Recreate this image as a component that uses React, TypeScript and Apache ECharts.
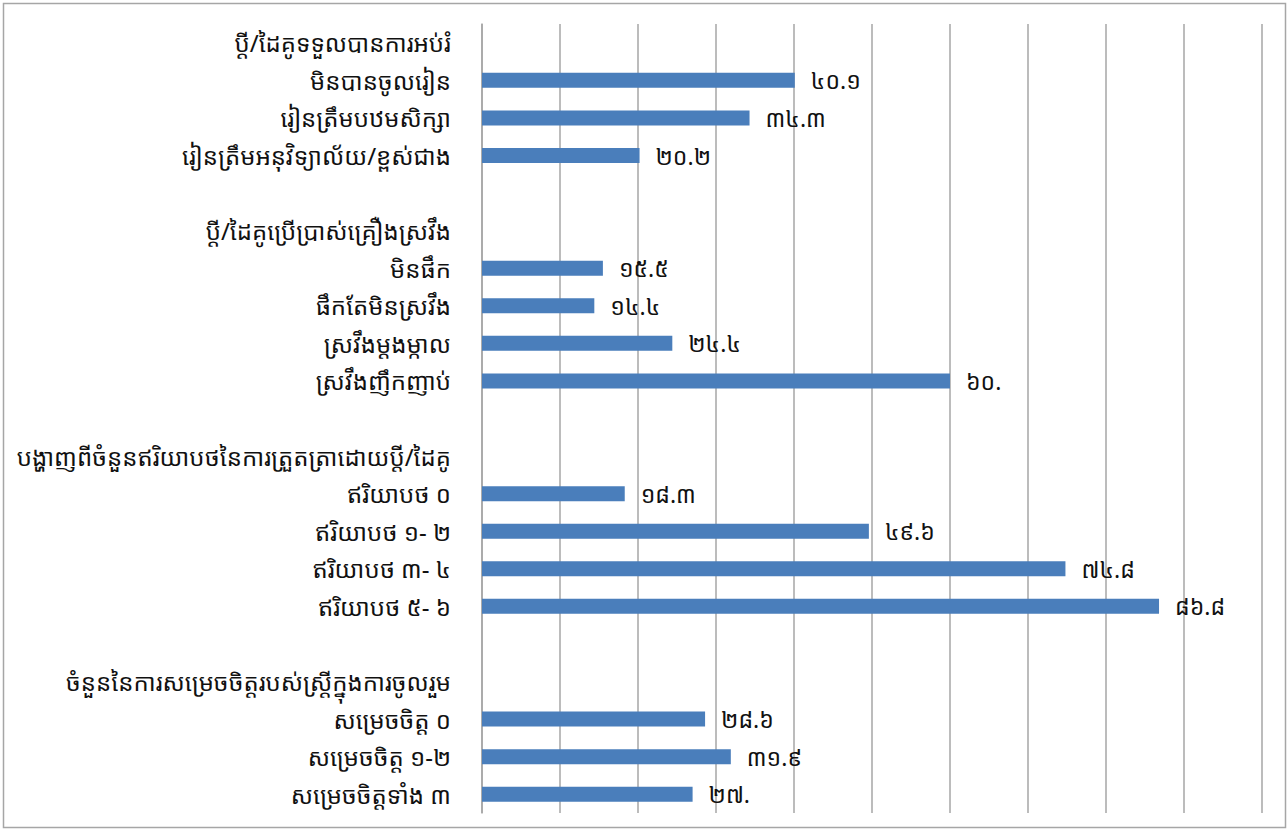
import React, { useEffect, useRef } from "react";
import * as echarts from "echarts";

// Category rows, top to bottom (group headers and blank spacer rows have no bar)
const categories: string[] = [
  "ប្ដី/ដៃគូទទួលបានការអប់រំ",
  "មិនបានចូលរៀន",
  "រៀនត្រឹមបឋមសិក្សា",
  "រៀនត្រឹមអនុវិទ្យាល័យ/ខ្ពស់ជាង",
  " ",
  "ប្ដី/ដៃគូប្រើប្រាស់គ្រឿងស្រវឹង",
  "មិនផឹក",
  "ផឹកតែមិនស្រវឹង",
  "ស្រវឹងម្ដងម្កាល",
  "ស្រវឹងញឹកញាប់",
  "  ",
  "បង្ហាញពីចំនួនឥរិយាបថនៃការត្រួតត្រាដោយប្ដី/ដៃគូ",
  "ឥរិយាបថ ០",
  "ឥរិយាបថ ១- ២",
  "ឥរិយាបថ ៣- ៤",
  "ឥរិយាបថ ៥- ៦",
  "   ",
  "ចំនួននៃការសម្រេចចិត្តរបស់ស្ត្រីក្នុងការចូលរួម",
  "សម្រេចចិត្ត ០",
  "សម្រេចចិត្ត ១-២",
  "សម្រេចចិត្តទាំង ៣",
];

// Bar values (null = header / spacer row)
const values: (number | null)[] = [
  null, 40.1, 34.3, 20.2,
  null,
  null, 15.5, 14.4, 24.4, 60.0,
  null,
  null, 18.3, 49.6, 74.8, 86.8,
  null,
  null, 28.6, 31.9, 27.0,
];

// Value labels as printed on the chart (Khmer numerals)
const valueLabels: string[] = [
  "", "៤០.១", "៣៤.៣", "២០.២",
  "",
  "", "១៥.៥", "១៤.៤", "២៤.៤", "៦០.",
  "",
  "", "១៨.៣", "៤៩.៦", "៧៤.៨", "៨៦.៨",
  "",
  "", "២៨.៦", "៣១.៩", "២៧.",
];

const xMin = 0;
const xMax = 100;
const xStep = 10;

const FONT = "'Noto Sans Khmer', 'Khmer OS', 'Khmer OS System', 'Noto Sans', 'DejaVu Sans', sans-serif";

export default function App() {
  const ref = useRef<HTMLDivElement>(null);

  useEffect(() => {
    if (!ref.current) return;
    const chart = echarts.init(ref.current, undefined, { renderer: "svg" });
    chart.setOption({
      animation: false,
      backgroundColor: "#ffffff",
      textStyle: { fontFamily: FONT },
      graphic: [
        {
          type: "rect",
          shape: { x: 3.5, y: 3.5, width: 1282, height: 824 },
          style: { fill: "none", stroke: "#a6a6a6", lineWidth: 1.5 },
          silent: true,
        },
      ],
      grid: { left: 482, right: 26, top: 24, bottom: 19, containLabel: false },
      xAxis: {
        type: "value",
        min: xMin,
        max: xMax,
        interval: xStep,
        axisLabel: { show: false },
        axisLine: { show: false },
        axisTick: { show: false },
        splitLine: { show: true, lineStyle: { color: "#a6a6a6", width: 1.5 } },
      },
      yAxis: {
        type: "category",
        inverse: true,
        data: categories,
        axisLine: { show: true, lineStyle: { color: "#a6a6a6", width: 1.5 } },
        axisTick: { show: false },
        axisLabel: {
          margin: 31,
          color: "#111111",
          fontSize: 24,
          fontFamily: FONT,
          interval: 0,
        },
      },
      series: [
        {
          type: "bar",
          data: values.map((v) => (v === null ? "-" : v)),
          barWidth: 15,
          itemStyle: { color: "#4a7ebb" },
          label: {
            show: true,
            position: "right",
            distance: 16,
            color: "#111111",
            fontSize: 23,
            fontFamily: FONT,
            formatter: (p: any) => valueLabels[p.dataIndex] || "",
          },
        },
      ],
    });
    return () => chart.dispose();
  }, []);

  return (
    <div
      ref={ref}
      style={{ position: "absolute", left: 0, top: 0, width: 1288, height: 832 }}
    />
  );
}
